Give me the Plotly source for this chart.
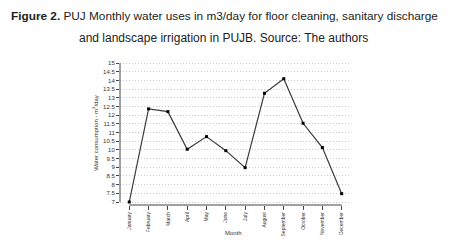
import plotly.graph_objects as go

months = ["January", "February", "March", "April", "May", "June", "July",
          "August", "September", "October", "November", "December"]
water_use = [7.0, 12.37, 12.21, 10.04, 10.77, 9.96, 8.98, 13.27, 14.11, 11.54, 10.14, 7.48]
y_ticks = [7 + 0.5 * i for i in range(17)]
y_tick_labels = [("%g" % v) for v in y_ticks]

font_fam = "Liberation Sans, Arial, sans-serif"
# the page body has an 8px default margin, so the figure is sized/offset for it
OFF = 8
W, H = 449 - OFF, 246 - OFF
ML, MR, MT, MB = 120 - OFF, 99, 61 - OFF, 41
PH = H - MT - MB
PW = W - ML - MR

fig = go.Figure()
fig.add_trace(go.Scatter(
    x=list(range(len(months))), y=water_use, mode="lines+markers",
    line=dict(color="#3a3a3a", width=1.2),
    marker=dict(symbol="square", size=3, color="#000000"),
    showlegend=False,
))

fig.update_layout(
    width=W, height=H,
    margin=dict(l=ML, r=MR, t=MT, b=MB),
    paper_bgcolor="white", plot_bgcolor="white",
    font=dict(family=font_fam, color="#333333"),
    xaxis=dict(
        range=[-0.48, 11.43], tickmode="array",
        tickvals=list(range(len(months))), ticktext=months,
        tickangle=-90, tickfont=dict(size=5, color="#333333"),
        ticks="outside", ticklen=4, tickcolor="#444", tickwidth=1,
        showgrid=False, zeroline=False, showline=False, automargin=False,
    ),
    yaxis=dict(
        range=[6.827, 15.13], tickmode="array",
        tickvals=y_ticks, ticktext=y_tick_labels,
        tickfont=dict(size=6, color="#333333"),
        ticks="outside", ticklen=3, tickcolor="#444", tickwidth=1,
        showgrid=True, gridcolor="#cccccc", gridwidth=1, griddash="1px,2px",
        zeroline=False, showline=False, automargin=False,
        title=dict(text="Water consumption - m<sup>3</sup>/day",
                   font=dict(size=6, color="#333333"), standoff=4),
    ),
)

# axis lines spanning only the data range
fig.add_shape(type="line", xref="paper", yref="y", x0=0, x1=0,
              y0=y_ticks[0], y1=y_ticks[-1], line=dict(color="#444", width=1))
fig.add_shape(type="line", xref="x", yref="paper", x0=0, x1=len(months) - 1,
              y0=0, y1=0, line=dict(color="#444", width=1))

def px_to_paper_x(px):
    return (px - OFF - ML) / PW
def px_to_paper_y(py):
    return (H - MB - (py - OFF)) / PH

fig.add_annotation(
    text="Month", xref="paper", yref="paper",
    x=px_to_paper_x(233), xanchor="center", y=px_to_paper_y(232.5), yanchor="middle",
    showarrow=False, font=dict(size=6, color="#333333", family=font_fam),
)
fig.add_annotation(
    text="<b>Figure 2.</b> PUJ Monthly water uses in m3/day for floor cleaning, sanitary discharge",
    xref="paper", yref="paper", x=px_to_paper_x(224), xanchor="center",
    y=px_to_paper_y(16), yanchor="middle",
    showarrow=False, font=dict(size=11.8, color="#222", family=font_fam),
)
fig.add_annotation(
    text="and landscape irrigation in PUJB. Source: The authors",
    xref="paper", yref="paper", x=px_to_paper_x(223.5), xanchor="center",
    y=px_to_paper_y(38), yanchor="middle",
    showarrow=False, font=dict(size=12, color="#222", family=font_fam),
)
fig.write_html("out.html")
